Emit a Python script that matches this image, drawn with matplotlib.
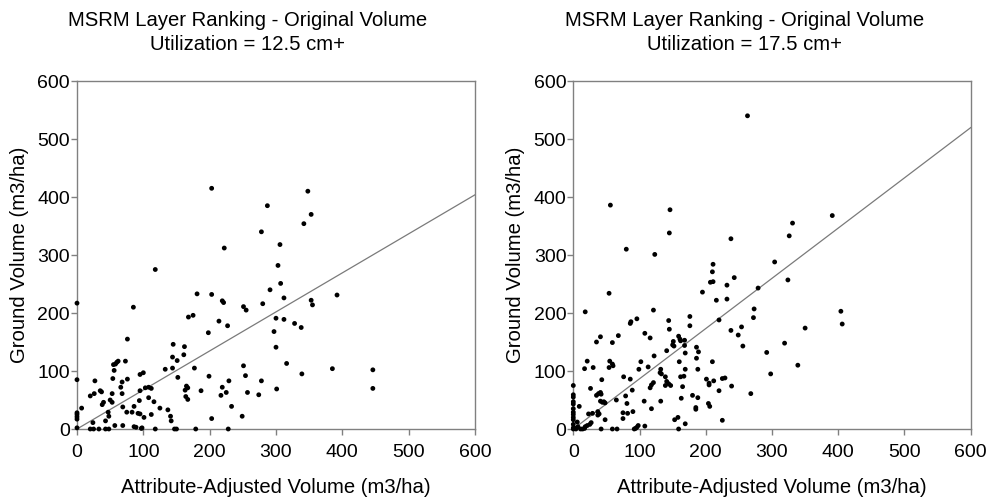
import matplotlib
matplotlib.use("Agg")
import matplotlib.pyplot as plt

plt.rcParams['font.family'] = ['Liberation Sans', 'DejaVu Sans']

# ---------------- data ----------------
titles_line1 = ["MSRM Layer Ranking - Original Volume", "MSRM Layer Ranking - Original Volume"]
titles_line2 = ["Utilization = 12.5 cm+", "Utilization = 17.5 cm+"]
xlabel = "Attribute-Adjusted Volume (m3/ha)"
ylabel = "Ground Volume (m3/ha)"
ticks = [0, 100, 200, 300, 400, 500, 600]

left_pts = [
    (203, 415), (287, 385), (278, 340), (222, 312), (348, 410), (353, 370), (342, 354), (306, 318),
    (118, 275), (0, 217), (181, 233), (203, 232), (219, 221), (221, 218), (85, 210), (291, 240),
    (280, 216), (251, 211), (255, 205), (168, 193), (175, 196), (214, 186), (227, 178), (198, 166),
    (76, 155), (145, 146), (162, 142), (144, 124), (161, 128), (151, 118), (133, 103), (144, 105),
    (177, 105), (152, 89), (199, 91), (251, 109), (254, 92), (278, 83), (229, 83), (219, 72),
    (225, 63), (217, 58), (187, 66), (165, 74), (167, 71), (163, 67), (164, 56), (167, 51),
    (274, 59), (257, 63), (233, 39), (249, 22), (203, 18), (179, 0), (228, 0), (147, 0),
    (150, 0), (118, 0), (141, 22), (142, 14), (137, 33), (125, 36), (116, 47), (108, 54),
    (112, 25), (103, 71), (108, 72), (112, 70), (95, 66), (100, 97), (95, 94), (94, 49),
    (86, 39), (92, 27), (95, 26), (101, 20), (97, 1), (98, 2), (86, 4), (89, 3),
    (83, 29), (75, 29), (69, 38), (66, 72), (73, 117), (76, 86), (68, 81), (68, 61),
    (69, 6), (55, 111), (58, 112), (60, 115), (62, 117), (56, 101), (54, 87), (53, 61),
    (53, 46), (50, 50), (47, 29), (48, 22), (43, 14), (57, 6), (48, 0), (43, 0),
    (40, 46), (38, 42), (37, 64), (35, 66), (27, 83), (26, 61), (20, 57), (24, 11),
    (25, 0), (20, 0), (33, 0), (7, 36), (0, 85), (0, 28), (0, 25), (0, 21), (0, 17), (0, 2),
    (303, 282), (307, 251), (312, 226), (353, 222), (355, 214), (392, 231), (300, 191), (312, 189),
    (328, 182), (338, 175), (297, 168), (300, 141), (316, 113), (339, 95), (385, 104), (446, 102),
    (446, 70), (301, 69),
]

right_pts = [
    (263, 540), (56, 386), (146, 378), (145, 338), (238, 328), (80, 310), (391, 368), (331, 355),
    (326, 333), (123, 301), (211, 284), (210, 271), (207, 253), (211, 254), (243, 261), (232, 248),
    (54, 234), (195, 236), (216, 222), (232, 224), (279, 243), (18, 202), (121, 205), (144, 187),
    (145, 172), (176, 194), (176, 178), (96, 190), (87, 185), (86, 182), (220, 188), (273, 207),
    (272, 192), (238, 170), (254, 176), (249, 162), (256, 143), (108, 165), (116, 157), (122, 126),
    (35, 150), (41, 159), (59, 149), (68, 161), (151, 151), (150, 145), (152, 143), (159, 160),
    (161, 155), (162, 152), (168, 153), (168, 144), (141, 135), (169, 131), (186, 141), (189, 133),
    (186, 122), (160, 116), (210, 116), (188, 103), (169, 103), (162, 90), (167, 91), (132, 103),
    (131, 97), (133, 95), (139, 90), (113, 107), (102, 116), (99, 103), (121, 80), (118, 76),
    (116, 71), (141, 82), (144, 78), (147, 75), (139, 75), (165, 73), (163, 53), (180, 58),
    (188, 54), (185, 37), (185, 34), (201, 86), (205, 79), (205, 76), (212, 83), (225, 87),
    (229, 88), (220, 66), (239, 74), (268, 61), (204, 44), (206, 39), (225, 15), (158, 20),
    (153, 16), (169, 9), (159, 0), (132, 48), (118, 35), (107, 48), (108, 5), (98, 6),
    (96, 3), (94, 1), (92, 0), (90, 30), (82, 27), (81, 44), (79, 57), (86, 86),
    (89, 67), (76, 90), (75, 28), (75, 18), (65, 50), (48, 16), (66, 0), (59, 0),
    (42, 0), (59, 112), (60, 109), (55, 117), (54, 106), (43, 85), (38, 61), (35, 58),
    (41, 63), (42, 60), (41, 48), (44, 46), (48, 45), (46, 47), (37, 30), (39, 26),
    (37, 24), (29, 27), (23, 26), (26, 70), (30, 106), (21, 117), (17, 104), (9, 39),
    (27, 11), (25, 8), (21, 6), (18, 4), (17, 1), (14, 0), (11, 0), (6, 12),
    (7, 4), (3, 1), (4, 0), (0, 75), (0, 59), (0, 55), (0, 47), (0, 43),
    (0, 35), (0, 29), (0, 25), (0, 20), (0, 16), (0, 8), (0, 2), (0, 0),
    (304, 288), (324, 257), (404, 203), (406, 181), (350, 174), (319, 148), (292, 132), (339, 110),
    (298, 95),
]

fit_slopes = [0.673, 0.866]
panels = [left_pts, right_pts]

# ---------------- figure ----------------
W, H = 993, 503
fig = plt.figure(figsize=(W / 100, H / 100), dpi=100)
fig.patch.set_facecolor("white")

axes_px = [(77, 81, 475, 429), (573.3, 81, 970.7, 429)]
grey = "#808080"

for i, (pts, slope) in enumerate(zip(panels, fit_slopes)):
    x0, y0, x1, y1 = axes_px[i]
    ax = fig.add_axes([x0 / W, 1 - y1 / H, (x1 - x0) / W, (y1 - y0) / H])
    xs = [p[0] for p in pts]
    ys = [p[1] for p in pts]
    ax.plot([0, 600], [0, 600 * slope], color="#7a7a7a", lw=0.9, zorder=2)
    ax.scatter(xs, ys, s=12, color="black", edgecolors="none", zorder=3, clip_on=False)
    ax.set_xlim(0, 600)
    ax.set_ylim(0, 600)
    ax.set_xticks(ticks)
    ax.set_yticks(ticks)
    for sp in ax.spines.values():
        sp.set_color(grey)
        sp.set_linewidth(1.0)
    ax.tick_params(axis="both", direction="out", length=4, width=1.0, color=grey,
                   labelsize=14, labelcolor="black")
    ax.tick_params(axis="x", pad=7)
    ax.tick_params(axis="y", pad=1)
    ax.set_xlabel(xlabel, fontsize=14.6, labelpad=12)
    ax.set_ylabel(ylabel, fontsize=14.6, labelpad=6)

    cx = (x0 + 171) / W
    fig.text(cx, 1 - 20 / H, titles_line1[i], ha="center", va="center", fontsize=14.6)
    fig.text(cx, 1 - 44 / H, titles_line2[i], ha="center", va="center", fontsize=14.6)

fig.savefig("out.png", dpi=100, facecolor="white")
